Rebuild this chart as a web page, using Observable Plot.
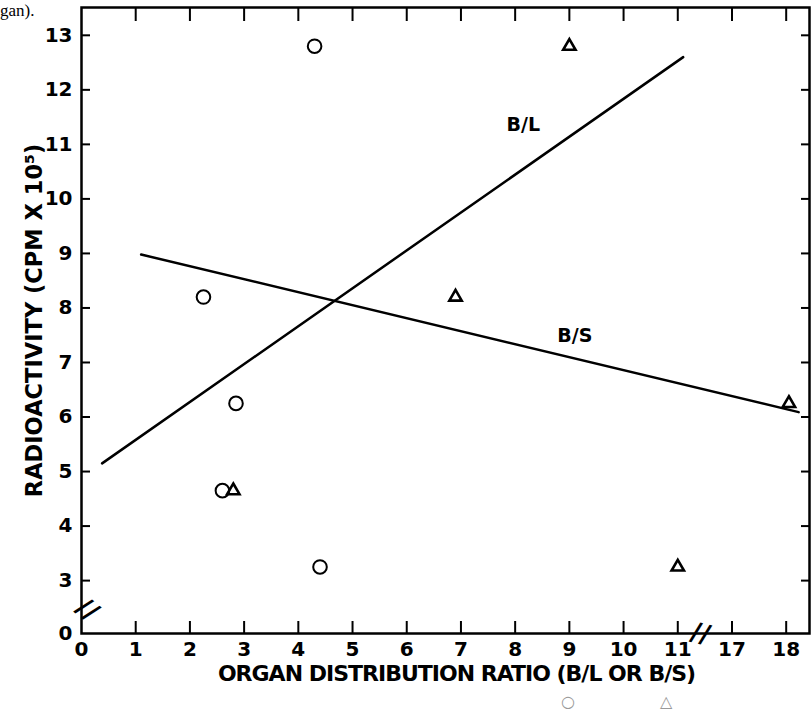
<!DOCTYPE html>
<html><head><meta charset="utf-8">
<script src="https://cdn.jsdelivr.net/npm/d3@7"></script>
<script src="https://cdn.jsdelivr.net/npm/@observablehq/plot@0.6"></script>
<style>
body{margin:0;background:#fff;}
#wrap{position:relative;width:811px;height:712px;overflow:hidden;background:#fff;}
#chart svg{display:block;}
#cap{position:absolute;left:0;top:1px;font:17px "Liberation Serif","DejaVu Serif",serif;color:#000;}
#legend{position:absolute;top:693px;left:0;width:811px;height:18px;font:16px/17px "DejaVu Sans",sans-serif;color:#999;}
#legend span{position:absolute;top:0;}
</style></head><body>
<div id="wrap"><div id="chart"></div><div id="cap">gan).</div><div id="legend"></div></div>
<script>
// ---- data ----
const radioactivity = [12.8, 8.2, 6.25, 4.65, 3.25];      // CPM x 10^5
const ratioBL = [4.3, 2.25, 2.85, 2.6, 4.4];              // circles (B/L)
const ratioBS = [9.0, 6.9, 18.05, 2.8, 11.0];             // triangles (B/S)
const fitBL = [{x: 0.38, y: 5.15}, {x: 11.1, y: 12.6}];
const fitBS = [{x: 1.1, y: 8.98}, {x: 18.23, y: 6.09}];
const lineLabels = [{text: "B/L", x: 8.15, y: 11.35}, {text: "B/S", x: 9.1, y: 7.48}];
const xTickValues = [1, 2, 3, 4, 5, 6, 7, 8, 9, 10, 11, 17, 18];
const xLabelValues = [0, 1, 2, 3, 4, 5, 6, 7, 8, 9, 10, 11, 17, 18];
const yTickValues = [3, 4, 5, 6, 7, 8, 9, 10, 11, 12, 13];
const yLabelValues = [0, 3, 4, 5, 6, 7, 8, 9, 10, 11, 12, 13];
const xTitle = "ORGAN DISTRIBUTION RATIO (B/L OR B/S)";
const yTitle = "RADIOACTIVITY (CPM X 10⁵)";
const legendSymbols = ["○", "△"];

// broken axes: x jumps from 11 to 17, y from 0 to 3
const xBreakFrom = 11.5, xBreakShift = 5;
const yBreakBelow = 2, yBreakShift = 2.03;
const xpos = v => v > xBreakFrom ? v - xBreakShift : v;
const ypos = v => v < yBreakBelow ? v + yBreakShift : v;
const xInv = p => p > xBreakFrom ? p + xBreakShift : p;
const yInv = p => p < yBreakShift + 0.5 ? p - yBreakShift : p;
const xBreakPos = 11.42, yBreakPos = 2.47;

const pts = (xs) => radioactivity.map((y, i) => ({x: xs[i], y}));
const font = "'DejaVu Sans',sans-serif";
const lab = {fontSize: 20, fontWeight: "bold", fontFamily: font};
const blank = () => "";

const chart = Plot.plot({
  width: 811, height: 692,
  marginTop: 7, marginBottom: 59, marginLeft: 81, marginRight: 2,
  x: {domain: [0, 13.43]},
  y: {domain: [yBreakShift, 13.51]},
  style: {background: "#fff", color: "#000", fontFamily: font},
  marks: [
    // inward ticks on all four sides
    Plot.axisX({anchor: "bottom", ticks: xTickValues.map(xpos), tickSize: -12, tickFormat: blank, label: null, strokeWidth: 2}),
    Plot.axisX({anchor: "top", ticks: xTickValues.map(xpos), tickSize: -13, tickFormat: blank, label: null, strokeWidth: 2}),
    Plot.axisY({anchor: "left", ticks: yTickValues, tickSize: -9, tickFormat: blank, label: null, strokeWidth: 2}),
    Plot.axisY({anchor: "right", ticks: yTickValues, tickSize: -9, tickFormat: blank, label: null, strokeWidth: 2}),
    // tick labels
    Plot.axisX({anchor: "bottom", ticks: xLabelValues.map(xpos), tickSize: 0, tickPadding: 8, tickFormat: p => String(Math.round(xInv(p))), label: null, ...lab}),
    Plot.axisY({anchor: "left", ticks: yLabelValues.map(ypos), tickSize: 0, tickPadding: 9, tickFormat: p => String(Math.round(yInv(p))), label: null, ...lab}),
    Plot.frame({stroke: "#000", strokeWidth: 2.5}),
    // axis titles
    Plot.text([xTitle], {frameAnchor: "bottom", dx: 11, dy: 47, text: d => d, ...lab, fontSize: 22, className: "xtitle"}),
    Plot.text([yTitle], {frameAnchor: "left", textAnchor: "middle", dx: -47, rotate: -90, text: d => d, ...lab, fontSize: 22.5}),
    // axis-break marks
    Plot.text(["//"], {x: 0, y: yBreakPos, dx: 6, text: d => d, rotate: 40, fontSize: 26, fontWeight: "bold", fontFamily: font}),
    Plot.text(["//"], {x: xBreakPos, y: yBreakShift, text: d => d, rotate: 14, fontSize: 26, fontWeight: "bold", fontFamily: font}),
    // regression lines
    Plot.line(fitBL, {x: d => xpos(d.x), y: d => ypos(d.y), stroke: "#000", strokeWidth: 2.5}),
    Plot.line(fitBS, {x: d => xpos(d.x), y: d => ypos(d.y), stroke: "#000", strokeWidth: 2.5}),
    Plot.text(lineLabels, {x: "x", y: "y", text: "text", ...lab, fontSize: 19}),
    // data points
    Plot.dot(pts(ratioBL), {x: d => xpos(d.x), y: d => ypos(d.y), symbol: "circle", r: 6.8, stroke: "#000", strokeWidth: 2, fill: "none"}),
    Plot.dot(pts(ratioBS), {x: d => xpos(d.x), y: d => ypos(d.y), symbol: "triangle", r: 4.6, stroke: "#000", strokeWidth: 2.6, fill: "none"})
  ]
});
chart.querySelectorAll(".xtitle text").forEach(t => t.setAttribute("letter-spacing", "-1"));
document.getElementById("chart").append(chart);

const leg = document.getElementById("legend");
const legLeft = [561, 660];
legendSymbols.forEach((s, i) => {
  const sp = document.createElement("span");
  sp.textContent = s;
  sp.style.left = legLeft[i] + "px";
  leg.append(sp);
});
</script>
</body></html>
